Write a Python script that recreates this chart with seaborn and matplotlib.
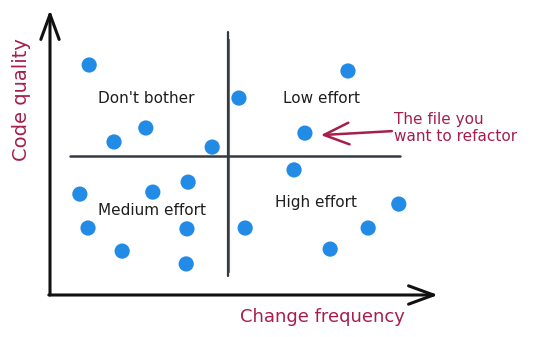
import matplotlib
matplotlib.use("Agg")
import matplotlib.pyplot as plt
import seaborn as sns
import pandas as pd

# Data (arbitrary 0-100 units)
change_frequency = [10.1, 48.7, 24.7, 16.5, 41.8, 35.6, 26.5, 7.7, 9.8, 35.3,
                    50.3, 18.6, 35.1, 76.8, 65.7, 62.9, 89.9, 82.0, 72.2]
code_quality = [80.7, 69.1, 58.6, 53.7, 51.9, 39.6, 36.1, 35.4, 23.5, 23.2,
                23.5, 15.4, 10.9, 78.6, 56.8, 43.9, 31.9, 23.5, 16.1]

quadrant_labels = ["Don't bother", "Low effort", "Medium effort", "High effort"]
quadrant_x = [12.4, 60.0, 12.4, 58.0]
quadrant_y = [69.1, 69.1, 29.8, 32.3]

split_x = 45.9
split_y = 48.8

target_label = "The file you\nwant to refactor"
x_label = "Change frequency"
y_label = "Code quality"

df = pd.DataFrame({"change": change_frequency, "quality": code_quality})

sns.set_theme(style="white")
plt.rcParams["font.family"] = ["DejaVu Sans"]

W, H = 542, 337
fig = plt.figure(figsize=(W / 100, H / 100), dpi=100)
ax = fig.add_axes([50 / W, 1 - 295 / H, 388 / W, 285 / H])
ax.set_xlim(0, 100)
ax.set_ylim(0, 100)

blue = "#228be6"
ink = "#343a40"
crimson = "#a61e4d"

# dividers
ax.plot([split_x, split_x], [6.7, 92.3], color=ink, lw=1.6, solid_capstyle="round")
ax.plot([split_x + 0.3, split_x + 0.3], [8, 90], color=ink, lw=0.8, alpha=0.7)
ax.plot([5.2, 90.2], [split_y, split_y], color=ink, lw=1.8, solid_capstyle="round")

sns.scatterplot(data=df, x="change", y="quality", ax=ax, s=120, color=blue,
                edgecolor="none", linewidth=0, zorder=5)

for lab, qx, qy in zip(quadrant_labels, quadrant_x, quadrant_y):
    ax.text(qx, qy, lab, fontsize=11, color="#1e1e1e", ha="left", va="center")

# axis arrows
ax.annotate("", xy=(0, 1.0), xytext=(0, 0), xycoords="axes fraction",
            textcoords="axes fraction",
            arrowprops=dict(arrowstyle="->,head_length=1.5,head_width=0.55",
                            color="#111111", lw=2.2, shrinkA=0, shrinkB=0))
ax.annotate("", xy=(1.0, 0), xytext=(-0.003, 0), xycoords="axes fraction",
            textcoords="axes fraction",
            arrowprops=dict(arrowstyle="->,head_length=1.5,head_width=0.55",
                            color="#111111", lw=2.2, shrinkA=0, shrinkB=0))

# target annotation
ax.annotate("", xy=(69.8, 56.1), xytext=(88.1, 57.5),
            arrowprops=dict(arrowstyle="->,head_length=1.5,head_width=0.65",
                            color=crimson, lw=1.8, shrinkA=0, shrinkB=0))
ax.text(88.7, 58.6, target_label, fontsize=11, color=crimson, ha="left",
        va="center", linespacing=1.2, clip_on=False)

fig.text(322 / W, 1 - 317 / H, x_label, fontsize=13, color=crimson,
         ha="center", va="center")
fig.text(22 / W, 1 - 100 / H, y_label, fontsize=14, color=crimson,
         ha="center", va="center", rotation=90)

for sp in ax.spines.values():
    sp.set_visible(False)
ax.set_xticks([])
ax.set_yticks([])
ax.set_xlabel("")
ax.set_ylabel("")
ax.patch.set_alpha(0)

fig.savefig("out.png", dpi=100, facecolor="white")
